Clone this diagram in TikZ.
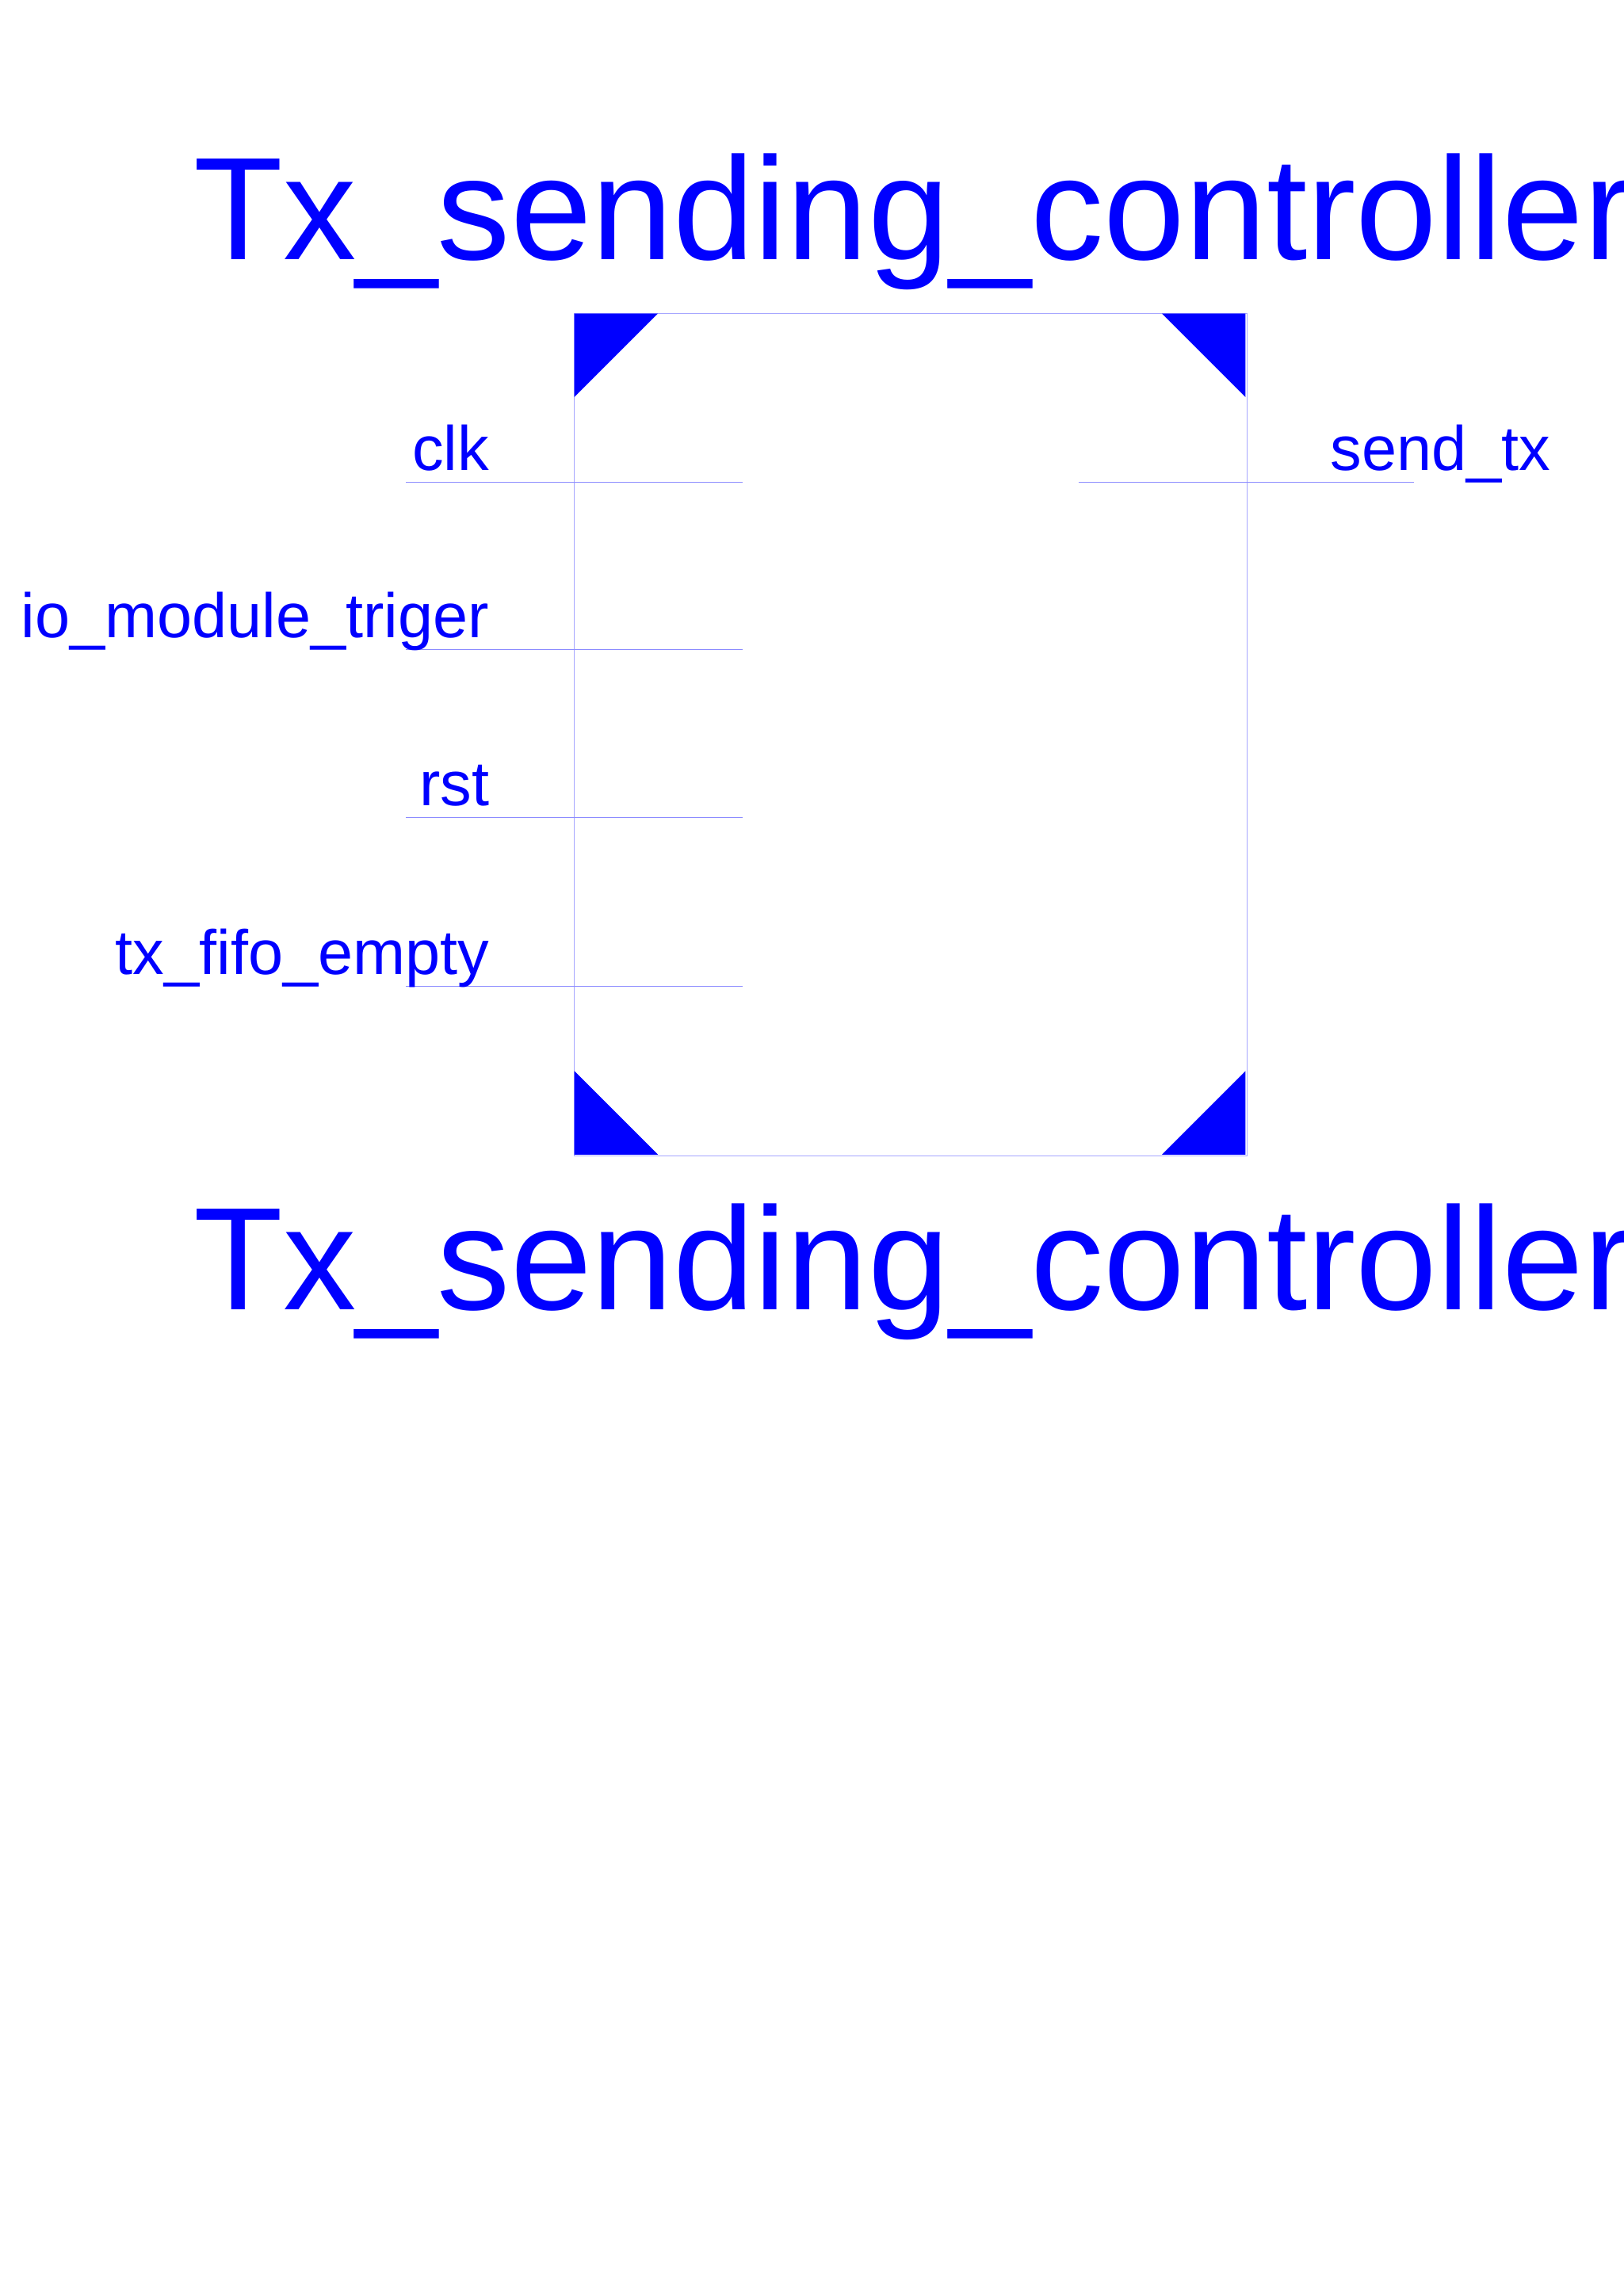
\documentclass[tikz,border=0pt]{standalone}
\usepackage{fontspec}
\setmainfont{Liberation Sans}
\begin{document}
\begin{tikzpicture}[x=0.05cm,y=-0.05cm]
    \tikzstyle{pinline}=[draw=blue!45,line width=0.4pt]
    \tikzstyle{corner}=[fill=blue,draw=none]
    \tikzstyle{title}=[text=blue,font=\fontsize{142}{150}\selectfont,anchor=base west,inner sep=0pt]
    \tikzstyle{port}=[text=blue,font=\fontsize{61}{70}\selectfont,inner sep=0pt]
    \useasboundingbox (0,0) rectangle (1108,1567);

    % Title above and below the block
    \node[title] (top) at (132,177) {Tx\_sending\_controller};
    \node[title] (bot) at (132,894) {Tx\_sending\_controller};

    % Block outline and corner marks
    \draw[draw=blue!35,line width=0.4pt] (392,214) rectangle (851,789);
    \fill[corner] (392,214) -- (449,214) -- (392,271) -- cycle;
    \fill[corner] (850,214) -- (793,214) -- (850,271) -- cycle;
    \fill[corner] (392,788) -- (449,788) -- (392,731) -- cycle;
    \fill[corner] (850,788) -- (793,788) -- (850,731) -- cycle;

    % Input ports
    \foreach \name / \y in {clk/329,io\_module\_triger/443,rst/558,tx\_fifo\_empty/673} {
        \coordinate (a) at (277,\y);
        \coordinate (b) at (507,\y);
        \draw[pinline] (a) -- (b);
        \node[port,anchor=base east] at (334,\y-8) {\name};
    }

    % Output port
    \coordinate (oa) at (736,329);
    \coordinate (ob) at (965,329);
    \draw[pinline] (oa) -- (ob);
    \node[port,anchor=base west] (send) at (908,321) {send\_tx};
\end{tikzpicture}
\end{document}
